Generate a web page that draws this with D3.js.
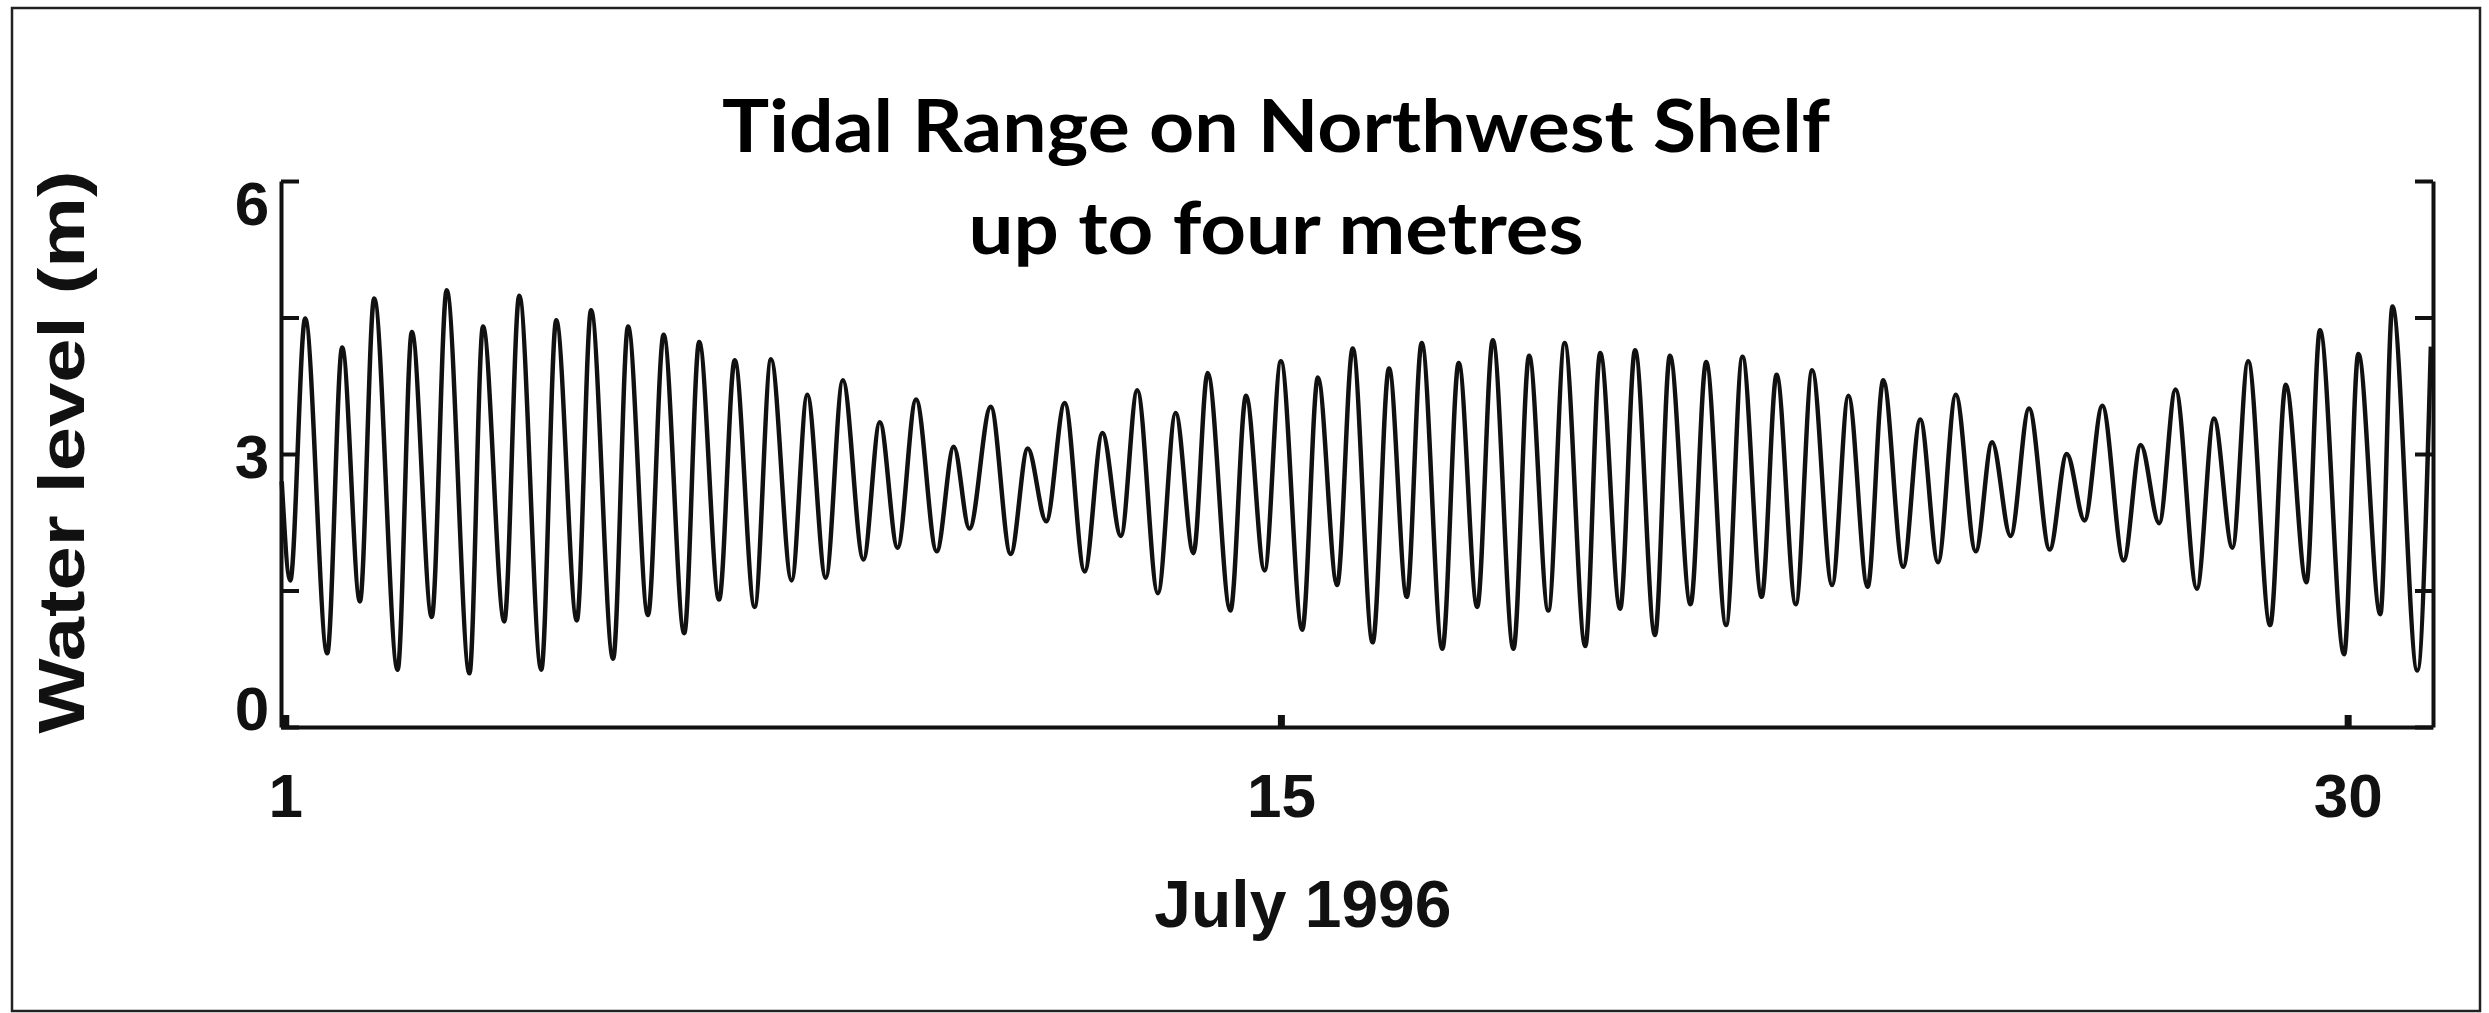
<!DOCTYPE html>
<html>
<head>
<meta charset="utf-8">
<script src="https://cdn.jsdelivr.net/npm/d3@7"></script>
<style>
  body { margin: 0; background: #fff; }
  svg { display: block; }
  .lbl { font-family: "Liberation Sans", Arial, sans-serif; font-weight: bold; fill: #111; }
  .title { font-family: Lato, "Open Sans", sans-serif; font-weight: bold; fill: #000; }
</style>
</head>
<body>
<div id="chart"></div>
<script>
// high and low waters: time (day of July 1996) and level (m)
const tideTimes = [
  0.95, 1.07, 1.28, 1.59, 1.80, 2.05, 2.25, 2.58, 2.78, 3.06,
  3.27, 3.59, 3.78, 4.08, 4.29, 4.60, 4.81, 5.10, 5.30, 5.61,
  5.82, 6.10, 6.32, 6.61, 6.82, 7.10, 7.32, 7.60, 7.83, 8.12,
  8.34, 8.60, 8.84, 9.13, 9.36, 9.61, 9.87, 10.16, 10.40, 10.62,
  10.92, 11.20, 11.44, 11.70, 11.96, 12.24, 12.49, 12.75, 12.98, 13.27,
  13.52, 13.77, 13.97, 14.29, 14.51, 14.77, 15.00, 15.30, 15.52, 15.79,
  16.01, 16.29, 16.52, 16.77, 16.98, 17.27, 17.50, 17.76, 17.98, 18.27,
  18.49, 18.76, 18.99, 19.28, 19.49, 19.77, 19.98, 20.26, 20.47, 20.76,
  20.98, 21.26, 21.49, 21.76, 21.97, 22.24, 22.47, 22.75, 22.98, 23.25,
  23.47, 23.75, 23.99, 24.24, 24.49, 24.77, 25.00, 25.26, 25.52, 25.81,
  26.05, 26.30, 26.55, 26.85, 27.09, 27.35, 27.58, 27.88, 28.12, 28.38,
  28.60, 28.91, 29.13, 29.42, 29.61, 29.95, 30.15, 30.46, 30.63, 30.98,
  31.17
];
const tideLevels = [
  2.70, 1.61, 4.49, 0.81, 4.17, 1.38, 4.71, 0.63, 4.34, 1.21,
  4.80, 0.59, 4.40, 1.16, 4.74, 0.63, 4.47, 1.17, 4.58, 0.75,
  4.40, 1.23, 4.31, 1.03, 4.23, 1.40, 4.03, 1.32, 4.04, 1.61,
  3.65, 1.64, 3.81, 1.84, 3.35, 1.97, 3.60, 1.93, 3.08, 2.18,
  3.52, 1.90, 3.06, 2.26, 3.56, 1.71, 3.23, 2.10, 3.70, 1.47,
  3.45, 1.91, 3.89, 1.28, 3.64, 1.72, 4.02, 1.07, 3.84, 1.56,
  4.16, 0.93, 3.94, 1.43, 4.22, 0.86, 4.00, 1.32, 4.25, 0.86,
  4.08, 1.28, 4.22, 0.89, 4.11, 1.30, 4.14, 1.01, 4.08, 1.35,
  4.01, 1.12, 4.07, 1.43, 3.87, 1.35, 3.92, 1.56, 3.64, 1.54,
  3.81, 1.76, 3.38, 1.81, 3.65, 1.93, 3.13, 2.10, 3.50, 1.95,
  3.00, 2.27, 3.53, 1.83, 3.10, 2.24, 3.71, 1.52, 3.39, 1.97,
  4.02, 1.12, 3.76, 1.59, 4.36, 0.80, 4.10, 1.24, 4.62, 0.62,
  4.18
];

const yTicks = [0, 1.5, 3, 4.5, 6];
const yLabels = [0, 3, 6];
const xTicks = [1, 15, 30];
const titleLines = ["Tidal Range on Northwest Shelf", "up to four metres"];

const data = tideTimes.map((t, i) => ({ t: t, level: tideLevels[i] }));

const W = 2489, H = 1013;
const margin = { top: 181, right: 56, bottom: 286, left: 281 };
const width = W - margin.left - margin.right;
const height = H - margin.top - margin.bottom;

const svg = d3.select("#chart")
  .append("svg")
  .attr("width", W)
  .attr("height", H);

svg.append("rect")
  .attr("width", W).attr("height", H)
  .attr("fill", "#fff");

// scanned page frame
svg.append("rect")
  .attr("x", 12).attr("y", 8)
  .attr("width", W - 21).attr("height", H - 10)
  .attr("fill", "none")
  .attr("stroke", "#222")
  .attr("stroke-width", 2.5);

const g = svg.append("g")
  .attr("transform", `translate(${margin.left},${margin.top})`);

const x = d3.scaleLinear().domain([0.94, 31.2]).range([0, width]);
const y = d3.scaleLinear().domain([0, 6]).range([height, 0]);
// the value labels sit a little inside the ends of the axis
const yLab = d3.scaleLinear().domain([0, 6]).range([height - 19, 22]);

function styleAxis(sel) {
  sel.selectAll("path, line")
    .attr("stroke", "#111")
    .attr("stroke-width", 4);
}

// left axis, ticks pointing in
g.append("g")
  .call(d3.axisLeft(y).tickValues(yTicks).tickSize(-18).tickSizeOuter(0).tickFormat(""))
  .call(styleAxis);

// right axis, ticks pointing in
g.append("g")
  .attr("transform", `translate(${width},0)`)
  .call(d3.axisRight(y).tickValues(yTicks).tickSize(-18).tickSizeOuter(0).tickFormat(""))
  .call(styleAxis);

// bottom axis
const xAxis = g.append("g")
  .attr("transform", `translate(0,${height})`)
  .call(d3.axisBottom(x).tickValues(xTicks).tickSize(-12).tickSizeOuter(0).tickPadding(46))
  .call(styleAxis);
xAxis.selectAll(".tick line").attr("stroke-width", 7);
xAxis.selectAll("text")
  .attr("class", "lbl")
  .attr("font-size", 62)
  .attr("font-family", null);

g.selectAll(".ylab")
  .data(yLabels)
  .enter()
  .append("text")
  .attr("class", "lbl")
  .attr("x", -29)
  .attr("y", d => yLab(d))
  .attr("dy", "0.36em")
  .attr("text-anchor", "middle")
  .attr("font-size", 62)
  .text(d => d);

// axis titles
g.append("text")
  .attr("class", "lbl")
  .attr("transform", "rotate(-90)")
  .attr("x", -height / 2 + 2)
  .attr("y", -197)
  .attr("text-anchor", "middle")
  .attr("font-size", 64)
  .attr("textLength", 563)
  .attr("lengthAdjust", "spacingAndGlyphs")
  .text("Water level (m)");

g.append("text")
  .attr("class", "lbl")
  .attr("x", x(15) + 22)
  .attr("y", height + 200)
  .attr("text-anchor", "middle")
  .attr("font-size", 66)
  .text("July 1996");

// the tide trace
const line = d3.line()
  .x(d => x(d.t))
  .y(d => y(d.level))
  .curve(d3.curveMonotoneX);

g.append("path")
  .datum(data)
  .attr("fill", "none")
  .attr("stroke", "#111")
  .attr("stroke-width", 4.5)
  .attr("stroke-linejoin", "round")
  .attr("d", line);

// overlaid title
svg.selectAll(".title")
  .data(titleLines)
  .enter()
  .append("text")
  .attr("class", "title")
  .attr("x", 1276)
  .attr("y", (d, i) => 152 + i * 102)
  .attr("text-anchor", "middle")
  .attr("font-size", 72)
  .attr("textLength", (d, i) => i === 0 ? 1108 : 615)
  .attr("lengthAdjust", "spacingAndGlyphs")
  .text(d => d);
</script>
</body>
</html>
